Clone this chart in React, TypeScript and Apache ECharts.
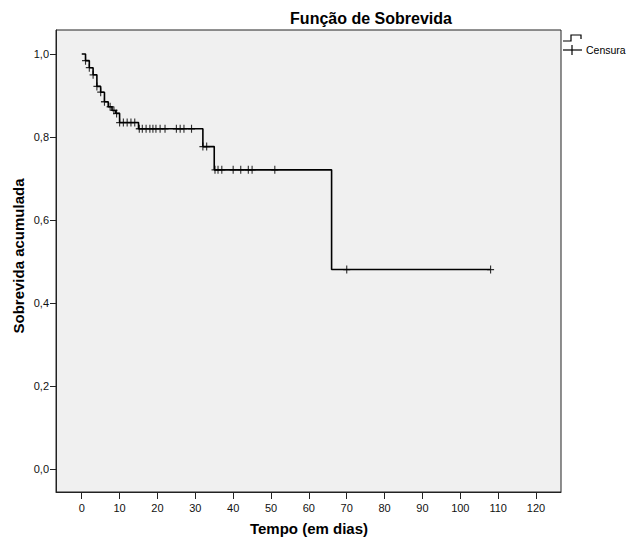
import React, { useEffect, useRef } from "react";
import * as echarts from "echarts";

// Kaplan-Meier step curve (time in days, cumulative survival)
const stepTimes = [0, 1, 2, 3, 4, 5, 6, 7, 8, 9, 10, 15, 32, 35, 66, 108];
const survival = [1.0, 0.984, 0.967, 0.95, 0.922, 0.908, 0.885, 0.873, 0.864, 0.857, 0.835, 0.82, 0.777, 0.721, 0.481, 0.481];

// Censored observation times
const censorTimes = [1, 2, 3, 4, 5, 6, 7.5, 8.5, 9.2, 10, 11, 12, 13, 14, 15.2, 16, 17, 18, 18.8, 19.6, 20.7, 22, 25, 26, 27, 29, 32, 33, 35.2, 36, 37, 40, 42, 44, 45, 51, 70, 108];

// Axis tick labels
const xTicks = [0, 10, 20, 30, 40, 50, 60, 70, 80, 90, 100, 110, 120];
const yTicks = [0, 0.2, 0.4, 0.6, 0.8, 1.0];

const titleText = "Função de Sobrevida";
const xName = "Tempo (em dias)";
const yName = "Sobrevida acumulada";
const legendCensor = "Censura";

function survivalAt(t: number): number {
  let s = survival[0];
  for (let i = 0; i < stepTimes.length; i++) {
    if (stepTimes[i] <= t) s = survival[i];
  }
  return s;
}

const FONT = "'Liberation Sans', Arial, sans-serif";

export default function App() {
  const ref = useRef<HTMLDivElement>(null);
  useEffect(() => {
    document.body.style.margin = "0";
    const chart = echarts.init(ref.current!, null, { renderer: "svg" });
    const lineData = stepTimes.map((t, i) => [t, survival[i]]);
    const censorData = censorTimes.map((t) => [t, survivalAt(t)]);
    chart.setOption({
      animation: false,
      backgroundColor: "#ffffff",
      textStyle: { fontFamily: FONT },
      grid: {
        left: 56,
        right: 66,
        top: 30,
        bottom: 45,
        show: true,
        backgroundColor: "#f0f0f0",
        borderColor: "#222",
        borderWidth: 1,
      },
      xAxis: {
        type: "value",
        min: -6.8,
        max: 126.6,
        axisLine: { show: true, onZero: false, lineStyle: { color: "#222", width: 1 } },
        axisTick: { show: true, length: 7, customValues: xTicks, lineStyle: { color: "#222" } },
        axisLabel: {
          customValues: xTicks,
          margin: 10,
          fontSize: 11,
          color: "#111",
          fontFamily: FONT,
          formatter: (v: number) => String(Math.round(v)),
        },
        splitLine: { show: false },
      },
      yAxis: {
        type: "value",
        min: -0.0547,
        max: 1.0578,
        axisLine: { show: true, onZero: false, lineStyle: { color: "#222", width: 1 } },
        axisTick: { show: true, length: 6, customValues: yTicks, lineStyle: { color: "#222" } },
        axisLabel: {
          customValues: yTicks,
          margin: 7,
          fontSize: 11,
          color: "#111",
          fontFamily: FONT,
          formatter: (v: number) => v.toFixed(1).replace(".", ","),
        },
        splitLine: { show: false },
      },
      series: [
        {
          type: "line",
          step: "end",
          data: lineData,
          showSymbol: false,
          symbol: "none",
          lineStyle: { color: "#000", width: 1.6 },
          z: 2,
        },
        {
          type: "scatter",
          data: censorData,
          symbol: "path://M4,0L4,8M0,4L8,4",
          symbolSize: [7, 8],
          itemStyle: { color: "transparent", borderColor: "#000", borderWidth: 1.2 },
          z: 3,
        },
      ],
      graphic: [
        {
          type: "text",
          x: 371,
          y: 18,
          style: {
            text: titleText,
            font: `bold 16px ${FONT}`,
            fill: "#000",
            align: "center",
            verticalAlign: "middle",
          },
        },
        {
          type: "text",
          x: 309,
          y: 528,
          style: {
            text: xName,
            font: `bold 15px ${FONT}`,
            fill: "#000",
            align: "center",
            verticalAlign: "middle",
          },
        },
        {
          type: "text",
          x: 18,
          y: 256,
          rotation: Math.PI / 2,
          style: {
            text: yName,
            font: `bold 15px ${FONT}`,
            fill: "#000",
            align: "center",
            verticalAlign: "middle",
          },
        },
        {
          type: "polyline",
          shape: { points: [[563, 41], [571, 41], [571, 35], [581, 35], [581, 39]] },
          style: { stroke: "#000", lineWidth: 1.2, fill: "none" },
        },
        {
          type: "line",
          shape: { x1: 563, y1: 50, x2: 582, y2: 50 },
          style: { stroke: "#000", lineWidth: 1.2 },
        },
        {
          type: "line",
          shape: { x1: 572, y1: 45, x2: 572, y2: 55 },
          style: { stroke: "#000", lineWidth: 1.2 },
        },
        {
          type: "text",
          x: 586,
          y: 50,
          style: {
            text: legendCensor,
            font: `10.5px ${FONT}`,
            fill: "#000",
            align: "left",
            verticalAlign: "middle",
          },
        },
      ],
    });
    return () => chart.dispose();
  }, []);
  return <div ref={ref} style={{ width: 627, height: 537 }} />;
}
